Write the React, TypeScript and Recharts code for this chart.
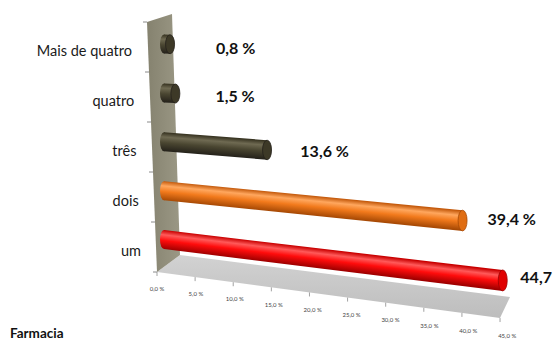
import React from "react";
import { BarChart, Bar, XAxis, YAxis, ReferenceArea } from "recharts";

const categories = ["Mais de quatro", "quatro", "três", "dois", "um"];
const shares = [0.8, 1.5, 13.6, 39.4, 44.7];
const axisTicks = [0, 5, 10, 15, 20, 25, 30, 35, 40, 45];

const olive = { top: "#35311f", hi: "#6f6a52", mid: "#4a4631", low: "#24211a", cap: "#3d3927" };
const orange = { top: "#c45a0c", hi: "#ffa75e", mid: "#f27a1c", low: "#a84a05", cap: "#e06d12" };
const red = { top: "#c80000", hi: "#ff5a5a", mid: "#ff0c0c", low: "#a00000", cap: "#e00000" };
const palette = [olive, olive, olive, orange, red];

const data = categories.map((name, i) => ({ name, value: shares[i] }));

const W = 554;
const H = 340;
const LEFT = 164; // plot left edge (y axis width)
const FONT = "Lato, 'Open Sans', sans-serif";

const fmt = (v: number) => v.toFixed(1).replace(".", ",") + " %";

// fake 3d: bars fan out downwards to the right
const slopeAt = (cy: number) => 0.08 + (cy - 143) * 0.00042;
const liftAt = (cy: number) => -3.5 - Math.max(0, cy - 47) * 0.022;

function geom(x: number, y: number, width: number, height: number) {
  const cy = y + height / 2;
  const cL = cy + liftAt(cy);
  const s = slopeAt(cL);
  const xR = x + width;
  const cR = cL + width * s;
  const hL = height;
  const hR = height * (1 + width * 0.0003);
  return { cL, s, xR, cR, hL, hR };
}

function Cylinder(props: any) {
  const { x, y, width, height, index, payload } = props;
  const { cL, s, xR, cR, hL, hR } = geom(x, y, width, height);
  const c = palette[index];
  const id = `cyl${index}`;
  const len = Math.hypot(1, s);
  const nx = -s / len;
  const ny = 1 / len;
  const half = hL / 2;
  const off = 46 - (cR - 44) * 0.12;
  const mid = cR + 4 - (cR - 44) * 0.028;
  return (
    <g>
      <defs>
        <linearGradient
          id={id}
          gradientUnits="userSpaceOnUse"
          x1={x - nx * half}
          y1={cL - ny * half}
          x2={x + nx * half}
          y2={cL + ny * half}
        >
          <stop offset="0%" stopColor={c.top} />
          <stop offset="25%" stopColor={c.hi} />
          <stop offset="55%" stopColor={c.mid} />
          <stop offset="100%" stopColor={c.low} />
        </linearGradient>
      </defs>
      <ellipse cx={x} cy={cL} rx={4} ry={hL / 2} fill={`url(#${id})`} />
      <path
        d={`M${x},${cL - hL / 2} L${xR},${cR - hR / 2} L${xR},${cR + hR / 2} L${x},${cL + hL / 2} Z`}
        fill={`url(#${id})`}
      />
      <ellipse cx={xR} cy={cR} rx={4.5} ry={hR / 2} fill={c.cap} stroke={c.low} strokeWidth={0.8} />
      <text x={xR + off} y={mid + 5.5} fontFamily={FONT} fontWeight={700} fontSize={16} fill="#111">
        {fmt(payload.value)}
      </text>
    </g>
  );
}

function Backdrop(props: any) {
  const { x, y } = props;
  const wall = `${x - 17},${y} ${x + 8},${y - 8} ${x + 16},${y + 233} ${x - 7},${y + 250}`;
  const floor = `${x + 16},${y + 233} ${x + 346},${y + 275} ${x + 336},${y + 296} ${x - 7},${y + 250}`;
  const marks = [0, 1, 2, 3, 4, 5].map((k) => {
    const yy = y + k * 50;
    const xe = x - 17 + k * 2;
    return <line key={k} x1={xe - 4} y1={yy} x2={xe} y2={yy} stroke="#8a8a8a" strokeWidth={1} />;
  });
  return (
    <g>
      <defs>
        <linearGradient id="wallShade" x1="0" y1="0" x2="1" y2="0">
          <stop offset="0%" stopColor="#85826f" />
          <stop offset="100%" stopColor="#9b9885" />
        </linearGradient>
        <linearGradient id="floorShade" x1="0" y1="0" x2="0" y2="1">
          <stop offset="0%" stopColor="#d2d2d2" />
          <stop offset="100%" stopColor="#bdbdbd" />
        </linearGradient>
      </defs>
      <polygon points={floor} fill="url(#floorShade)" />
      <polygon points={wall} fill="url(#wallShade)" />
      {marks}
    </g>
  );
}

function CategoryTick(props: any) {
  const { y, payload } = props;
  const right = 132 + (y - 47.5) * 0.045;
  return (
    <text x={right} y={y + 8.5} textAnchor="end" fontFamily={FONT} fontSize={14.5} fill="#1a1a1a">
      {payload.value}
    </text>
  );
}

function PercentTick(props: any) {
  const { x, payload } = props;
  const t = x - LEFT;
  const fx = 157 + t * 1.006;
  const fy = 272 + t * 0.135;
  const lx = 157 + t * 1.027;
  const ly = 289 + t * 0.138;
  return (
    <g>
      <line x1={fx} y1={fy} x2={fx} y2={fy + 4} stroke="#8a8a8a" strokeWidth={0.8} />
      <text x={lx} y={ly + 2} textAnchor="middle" fontFamily={FONT} fontSize={6} fill="#444">
        {fmt(payload.value)}
      </text>
    </g>
  );
}

export default function App() {
  return (
    <div style={{ position: "absolute", left: 0, top: 0, width: W, height: H, background: "#fff" }}>
      <BarChart
        width={W}
        height={H}
        data={data}
        layout="vertical"
        margin={{ top: 22, right: 49, bottom: 38, left: 0 }}
      >
        <XAxis
          type="number"
          domain={[0, 45]}
          ticks={axisTicks}
          height={30}
          axisLine={false}
          tickLine={false}
          tick={<PercentTick />}
          interval={0}
        />
        <YAxis
          type="category"
          dataKey="name"
          width={LEFT}
          axisLine={false}
          tickLine={false}
          tick={<CategoryTick />}
          interval={0}
        />
        <ReferenceArea x1={0} x2={45} ifOverflow="visible" shape={<Backdrop />} />
        <Bar dataKey="value" barSize={19} isAnimationActive={false} shape={<Cylinder />} />
      </BarChart>
      <div
        style={{
          position: "absolute",
          left: 10,
          top: 325,
          fontFamily: FONT,
          fontWeight: 700,
          fontSize: 13.5,
          color: "#111",
        }}
      >
        Farmacia
      </div>
    </div>
  );
}
